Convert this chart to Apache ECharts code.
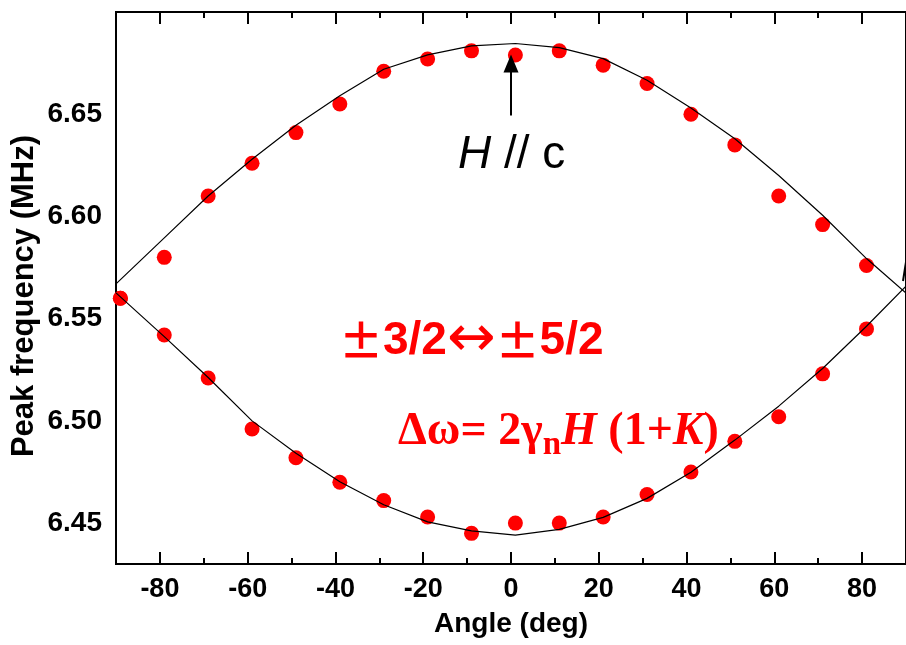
<!DOCTYPE html>
<html>
<head>
<meta charset="utf-8">
<script src="https://cdn.jsdelivr.net/npm/echarts@6/dist/echarts.min.js"></script>
<style>
  html, body { margin: 0; padding: 0; background: #fff; }
  #chart { width: 906px; height: 645px; }
</style>
</head>
<body>
<div id="chart"></div>
<script>
// measured points (deg, MHz)
var angles = [-89, -79, -69, -59, -49, -39, -29, -19, -9, 1, 11, 21, 31, 41, 51, 61, 71, 81];
var upperFreq = [6.560, 6.580, 6.610, 6.626, 6.641, 6.655, 6.671, 6.677, 6.681, 6.679, 6.681, 6.674, 6.665, 6.650, 6.635, 6.610, 6.596, 6.576];
var lowerFreq = [6.560, 6.542, 6.521, 6.496, 6.482, 6.470, 6.461, 6.453, 6.445, 6.450, 6.450, 6.453, 6.464, 6.475, 6.490, 6.502, 6.523, 6.545];

// fit curves
var fitAngles = [-90, -79, -69, -59, -49, -39, -29, -19, -9, 1, 11, 21, 31, 41, 51, 61, 71, 81, 90];
var fitUpper = [6.567, 6.5895, 6.610, 6.628, 6.6446, 6.659, 6.672, 6.679, 6.6834, 6.6846, 6.6826, 6.6772, 6.6666, 6.653, 6.638, 6.620, 6.6006, 6.5794, 6.5625];
var fitLower = [6.5626, 6.5412, 6.5212, 6.500, 6.4842, 6.4702, 6.459, 6.4506, 6.4462, 6.4441, 6.4469, 6.4528, 6.4621, 6.4749, 6.4906, 6.5072, 6.5256, 6.5463, 6.5659];

// "H // c" arrow (angle, MHz)
var arrowShaft = [[0, 6.6494], [0, 6.672]];
var arrowTip = [[0, 6.6748]];

// ticks
var xMajor = [-80, -60, -40, -20, 0, 20, 40, 60, 80];
var yLabels = [6.45, 6.50, 6.55, 6.60, 6.65];

var FONT = "'Liberation Sans', Arial, sans-serif";
var SERIF = "'Liberation Serif', 'Times New Roman', serif";

function pairs(xs, ys) {
  return xs.map(function (x, i) { return [x, ys[i]]; });
}

var chart = echarts.init(document.getElementById('chart'), null, { renderer: 'canvas' });

function xAx(pos, withLabel) {
  return {
    type: 'value',
    position: pos,
    min: -90,
    max: 90,
    splitNumber: 9,
    axisLine: { show: true, lineStyle: { color: '#000', width: 2 } },
    axisTick: { show: true, inside: true, length: 12, customValues: xMajor, lineStyle: { color: '#000', width: 2 } },
    minorTick: { show: true, splitNumber: 2, length: 6, lineStyle: { color: '#000', width: 2 } },
    axisLabel: {
      show: withLabel,
      customValues: xMajor,
      margin: 12,
      color: '#000',
      fontFamily: FONT,
      fontWeight: 'bold',
      fontSize: 27
    },
    splitLine: { show: false }
  };
}

var xBottom = xAx('bottom', true);
xBottom.name = 'Angle (deg)';
xBottom.nameLocation = 'middle';
xBottom.nameGap = 46;
xBottom.nameTextStyle = { color: '#000', fontFamily: FONT, fontWeight: 'bold', fontSize: 28 };

var option = {
  animation: false,
  backgroundColor: '#fff',
  grid: {
    left: 116, right: -1, top: 12, bottom: 81, containLabel: false,
    show: true, borderColor: '#000', borderWidth: 2, backgroundColor: 'transparent'
  },
  xAxis: [xBottom, xAx('top', false)],
  yAxis: {
    type: 'value',
    min: 6.43,
    max: 6.70,
    // left frame line comes from the grid border
    axisLine: { show: true, lineStyle: { color: '#000', width: 2, opacity: 0 } },
    axisTick: { show: false },
    axisLabel: {
      customValues: yLabels,
      margin: 14,
      color: '#000',
      fontFamily: FONT,
      fontWeight: 'bold',
      fontSize: 28,
      formatter: function (v) { return v.toFixed(2); }
    },
    splitLine: { show: false }
  },
  series: [
    {
      name: 'fit upper',
      type: 'line',
      data: pairs(fitAngles, fitUpper),
      showSymbol: false,
      lineStyle: { color: '#000', width: 1.2 },
      z: 3
    },
    {
      name: 'fit lower',
      type: 'line',
      data: pairs(fitAngles, fitLower),
      showSymbol: false,
      lineStyle: { color: '#000', width: 1.2 },
      z: 3
    },
    {
      name: 'upper',
      type: 'scatter',
      data: pairs(angles, upperFreq),
      symbolSize: 15,
      itemStyle: { color: '#ff0000', opacity: 1 },
      z: 2
    },
    {
      name: 'lower',
      type: 'scatter',
      data: pairs(angles, lowerFreq),
      symbolSize: 15,
      itemStyle: { color: '#ff0000', opacity: 1 },
      z: 2
    },
    {
      name: 'arrow shaft',
      type: 'line',
      data: arrowShaft,
      showSymbol: false,
      silent: true,
      lineStyle: { color: '#000', width: 2 },
      z: 4
    },
    {
      name: 'arrow tip',
      type: 'scatter',
      data: arrowTip,
      symbol: 'triangle',
      symbolSize: [15, 18],
      silent: true,
      itemStyle: { color: '#000', opacity: 1 },
      z: 4
    }
  ],
  graphic: [
    {
      type: 'text',
      x: 24,
      y: 296,
      rotation: Math.PI / 2,
      style: {
        text: 'Peak frequency (MHz)',
        fill: '#000',
        font: 'bold 31px ' + FONT,
        align: 'center',
        verticalAlign: 'middle'
      }
    },
    {
      type: 'text',
      x: 458,
      y: 155,
      style: {
        text: '{i|H} // c',
        fill: '#000',
        font: '46px ' + FONT,
        verticalAlign: 'middle',
        rich: { i: { fontStyle: 'italic', fontSize: 46, fontFamily: FONT } }
      }
    },
    {
      type: 'text',
      x: 339,
      y: 341,
      style: {
        text: '{s|±}3/2{r|↔}{s|±}5/2',
        fill: '#ff0000',
        font: 'bold 46px ' + FONT,
        verticalAlign: 'middle',
        rich: {
          s: { fontFamily: "'Noto Sans CJK SC', 'DejaVu Sans'", fontSize: 44, fontWeight: 'bold', fill: '#ff0000' },
          r: { fontFamily: "'DejaVu Sans'", fontSize: 58, fill: '#ff0000' }
        }
      }
    },
    {
      type: 'text',
      x: 398,
      y: 432,
      style: {
        text: '{a|Δω= 2γ}{n|n}{b|H}{a| (1+}{b|K}{a|)}',
        fill: '#ff0000',
        verticalAlign: 'middle',
        rich: {
          a: { fontFamily: SERIF, fontSize: 46, fontWeight: 'bold', fill: '#ff0000' },
          b: { fontFamily: SERIF, fontSize: 46, fontWeight: 'bold', fontStyle: 'italic', fill: '#ff0000' },
          n: { fontFamily: SERIF, fontSize: 33, fontWeight: 'bold', fill: '#ff0000', padding: [26, 0, 0, 0] }
        }
      }
    },
    {
      type: 'line',
      shape: { x1: 903, y1: 281, x2: 906, y2: 262 },
      style: { stroke: '#000', lineWidth: 2 }
    }
  ]
};

chart.setOption(option);
</script>
</body>
</html>
